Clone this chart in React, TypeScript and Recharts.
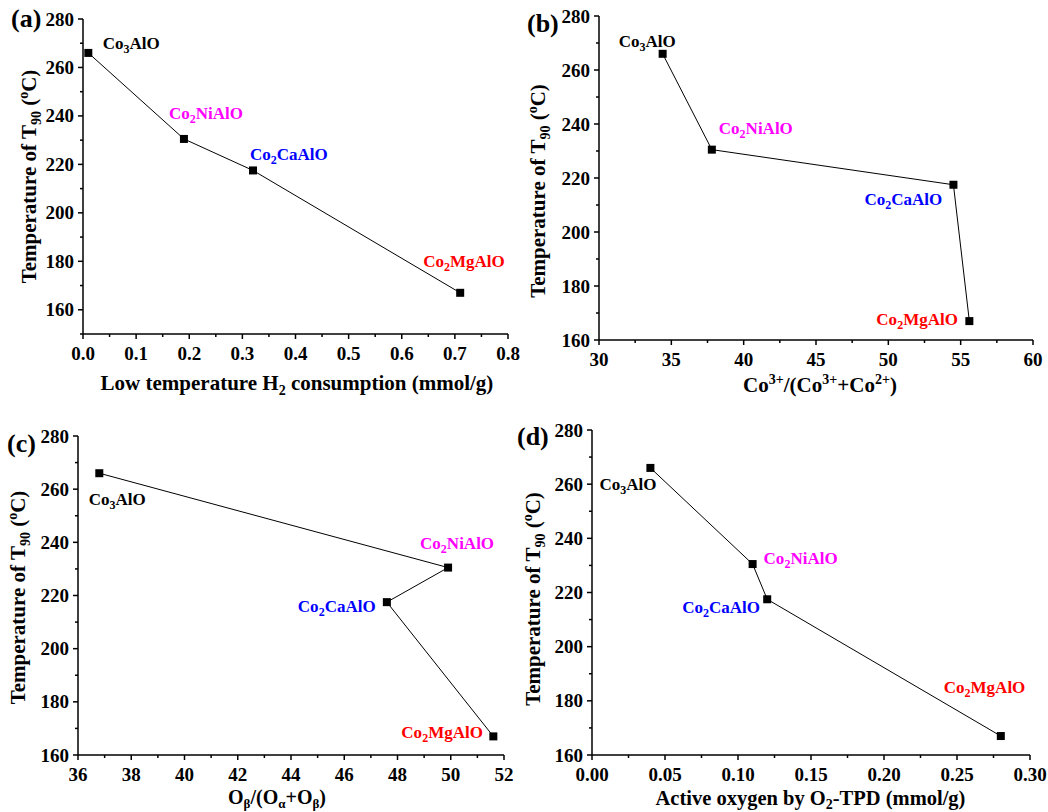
import React from 'react';
import { LineChart, Line, XAxis, YAxis, LabelList } from 'recharts';

// catalysts and their T90 (°C)
const catalysts = ['Co3AlO', 'Co2NiAlO', 'Co2CaAlO', 'Co2MgAlO'];
const labelColors = ['#000000', '#ff00ff', '#0000ff', '#ff0000'];
const t90 = [266, 230.5, 217.5, 167];

// x quantities for each panel
const h2Consumption = [0.01, 0.19, 0.32, 0.71];
const co3Fraction = [34.4, 37.8, 54.5, 55.6];
const oBetaFraction = [36.8, 49.9, 47.6, 51.6];
const activeOxygen = [0.04, 0.11, 0.12, 0.28];

// tick values and labels
const h2Ticks = [0, 0.1, 0.2, 0.3, 0.4, 0.5, 0.6, 0.7, 0.8];
const h2TickLabels = ['0.0', '0.1', '0.2', '0.3', '0.4', '0.5', '0.6', '0.7', '0.8'];
const co3Ticks = [30, 35, 40, 45, 50, 55, 60];
const co3TickLabels = ['30', '35', '40', '45', '50', '55', '60'];
const oBetaTicks = [36, 38, 40, 42, 44, 46, 48, 50, 52];
const oBetaTickLabels = ['36', '38', '40', '42', '44', '46', '48', '50', '52'];
const oxygenTicks = [0, 0.05, 0.1, 0.15, 0.2, 0.25, 0.3];
const oxygenTickLabels = ['0.00', '0.05', '0.10', '0.15', '0.20', '0.25', '0.30'];
const tempTicks = [160, 180, 200, 220, 240, 260, 280];
const tempTickLabels = ['160', '180', '200', '220', '240', '260', '280'];

const FONT = "'Liberation Serif', 'Times New Roman', serif";

// majors plus the midpoints between them (minor ticks)
const withMinors = (majors: number[], lo: number) => {
  const out: number[] = [];
  if (lo < majors[0]) out.push(lo);
  majors.forEach((m, i) => {
    out.push(m);
    if (i < majors.length - 1) out.push((m + majors[i + 1]) / 2);
  });
  return out;
};

const findMajor = (majors: number[], v: number) =>
  majors.findIndex((m) => Math.abs(m - v) < 1e-9);

const makeXTick = (majors: number[], labels: string[]) => (props: any) => {
  const { x, y, payload } = props;
  const i = findMajor(majors, payload.value);
  return (
    <g>
      <line x1={x} y1={y} x2={x} y2={y + (i >= 0 ? 5 : 3)} stroke="#000" strokeWidth={1.5} />
      {i >= 0 && (
        <text x={x} y={y + 26} textAnchor="middle" fontFamily={FONT} fontWeight="bold" fontSize={19} fill="#000">
          {labels[i]}
        </text>
      )}
    </g>
  );
};

const makeYTick = (majors: number[], labels: string[]) => (props: any) => {
  const { x, y, payload } = props;
  const i = findMajor(majors, payload.value);
  return (
    <g>
      <line x1={x} y1={y} x2={x - (i >= 0 ? 5 : 3)} y2={y} stroke="#000" strokeWidth={1.5} />
      {i >= 0 && (
        <text x={x - 9} y={y + 6.5} textAnchor="end" fontFamily={FONT} fontWeight="bold" fontSize={19} fill="#000">
          {labels[i]}
        </text>
      )}
    </g>
  );
};

const Formula = ({ name }: { name: string }) => {
  const m = name.match(/^(Co)(\d)(.*)$/);
  if (!m) return <>{name}</>;
  return (
    <>
      <tspan>{m[1]}</tspan>
      <tspan dy={4} fontSize={12}>{m[2]}</tspan>
      <tspan dy={-4}>{m[3]}</tspan>
    </>
  );
};

interface PanelProps {
  left: number;
  top: number;
  width: number;
  height: number;
  margin: { top: number; right: number };
  yWidth: number;
  xHeight: number;
  xs: number[];
  xDomain: [number, number];
  xMajors: number[];
  xLabels: string[];
  yDomain: [number, number];
  labelOffsets: [number, number][];
}

function Panel(p: PanelProps) {
  const data = catalysts.map((name, i) => ({ name, x: p.xs[i], t: t90[i] }));
  const xTicks = withMinors(p.xMajors, p.xDomain[0]);
  const yTicks = withMinors(tempTicks, p.yDomain[0]);

  return (
    <div style={{ position: 'absolute', left: p.left, top: p.top }}>
      <LineChart
        width={p.width}
        height={p.height}
        data={data}
        margin={{ top: p.margin.top, right: p.margin.right, left: 0, bottom: 0 }}
      >
        <XAxis
          dataKey="x"
          type="number"
          domain={p.xDomain}
          ticks={xTicks}
          interval={0}
          allowDataOverflow
          height={p.xHeight}
          tickSize={0}
          tickMargin={0}
          tickLine={false}
          tick={makeXTick(p.xMajors, p.xLabels)}
          axisLine={{ stroke: '#000', strokeWidth: 1.5 }}
        />
        <XAxis
          xAxisId="top"
          orientation="top"
          dataKey="x"
          type="number"
          domain={p.xDomain}
          height={0}
          tick={false}
          tickLine={false}
          axisLine={{ stroke: '#000', strokeWidth: 1.5 }}
        />
        <YAxis
          type="number"
          domain={p.yDomain}
          ticks={yTicks}
          interval={0}
          allowDataOverflow
          width={p.yWidth}
          tickSize={0}
          tickMargin={0}
          tickLine={false}
          tick={makeYTick(tempTicks, tempTickLabels)}
          axisLine={{ stroke: '#000', strokeWidth: 1.5 }}
        />
        <YAxis
          yAxisId="right"
          orientation="right"
          type="number"
          domain={p.yDomain}
          width={0}
          tick={false}
          tickLine={false}
          axisLine={{ stroke: '#000', strokeWidth: 1.5 }}
        />
        <Line
          dataKey="t"
          stroke="#000"
          strokeWidth={1}
          isAnimationActive={false}
          dot={(d: any) => (
            <rect key={`dot-${d.index}`} x={d.cx - 4} y={d.cy - 4} width={8} height={8} fill="#000" />
          )}
        >
          <LabelList
            dataKey="name"
            content={(l: any) => {
              const [dx, dy] = p.labelOffsets[l.index];
              return (
                <text
                  x={l.x + dx}
                  y={l.y + dy}
                  fontFamily={FONT}
                  fontWeight="bold"
                  fontSize={17}
                  fill={labelColors[l.index]}
                >
                  <Formula name={catalysts[l.index]} />
                </text>
              );
            }}
          />
        </Line>
      </LineChart>
    </div>
  );
}

const titleStyle = { fontFamily: FONT, fontWeight: 'bold' as const, fontSize: 21, fill: '#000' };

const YTitle = ({ x, y }: { x: number; y: number }) => (
  <text transform={`translate(${x},${y}) rotate(-90)`} textAnchor="middle" {...titleStyle}>
    Temperature of T<tspan dy={5} fontSize={14}>90</tspan>
    <tspan dy={-5}> (</tspan>
    <tspan dy={-8} fontSize={14}>o</tspan>
    <tspan dy={8}>C)</tspan>
  </text>
);

export default function App() {
  return (
    <div style={{ position: 'absolute', left: 0, top: 0, width: 1048, height: 812, background: '#fff' }}>
      <Panel
        left={0}
        top={0}
        width={520}
        height={400}
        margin={{ top: 19, right: 12 }}
        yWidth={83}
        xHeight={66}
        xs={h2Consumption}
        xDomain={[0, 0.8]}
        xMajors={h2Ticks}
        xLabels={h2TickLabels}
        yDomain={[150, 280]}
        labelOffsets={[[14.5, -4], [-15, -20], [-3, -10], [-37, -26]]}
      />
      <Panel
        left={520}
        top={0}
        width={528}
        height={400}
        margin={{ top: 16, right: 15 }}
        yWidth={79}
        xHeight={60}
        xs={co3Fraction}
        xDomain={[30, 60]}
        xMajors={co3Ticks}
        xLabels={co3TickLabels}
        yDomain={[160, 280]}
        labelOffsets={[[-44, -7], [7, -16], [-89, 20], [-93, 4]]}
      />
      <Panel
        left={0}
        top={420}
        width={520}
        height={392}
        margin={{ top: 16, right: 16 }}
        yWidth={78}
        xHeight={57}
        xs={oBetaFraction}
        xDomain={[36, 52]}
        xMajors={oBetaTicks}
        xLabels={oBetaTickLabels}
        yDomain={[160, 280]}
        labelOffsets={[[-10.5, 32], [-28, -19], [-89, 10], [-92, 2]]}
      />
      <Panel
        left={520}
        top={420}
        width={528}
        height={392}
        margin={{ top: 10, right: 18 }}
        yWidth={72}
        xHeight={57}
        xs={activeOxygen}
        xDomain={[0, 0.3]}
        xMajors={oxygenTicks}
        xLabels={oxygenTickLabels}
        yDomain={[160, 280]}
        labelOffsets={[[-51, 22], [11, 0], [-85, 14], [-57, -43]]}
      />

      {/* axis titles and panel letters */}
      <svg width={1048} height={812} style={{ position: 'absolute', left: 0, top: 0, pointerEvents: 'none' }}>
        <g fontFamily={FONT} fontWeight="bold" fontSize={26} fill="#000">
          <text x={11} y={27}>(a)</text>
          <text x={527} y={32}>(b)</text>
          <text x={7} y={452}>(c)</text>
          <text x={517} y={445}>(d)</text>
        </g>

        <YTitle x={35.5} y={176.5} />
        <YTitle x={545} y={191} />
        <YTitle x={25.3} y={597.5} />
        <YTitle x={539.6} y={599} />

        <text x={297} y={390} textAnchor="middle" {...titleStyle}>
          Low temperature H<tspan dy={5} fontSize={14}>2</tspan>
          <tspan dy={-5}> consumption (mmol/g)</tspan>
        </text>
        <text x={820} y={392} textAnchor="middle" {...titleStyle}>
          Co<tspan dy={-8} fontSize={14}>3+</tspan>
          <tspan dy={8}>/(Co</tspan>
          <tspan dy={-8} fontSize={14}>3+</tspan>
          <tspan dy={8}>+Co</tspan>
          <tspan dy={-8} fontSize={14}>2+</tspan>
          <tspan dy={8}>)</tspan>
        </text>
        <text x={277} y={804} textAnchor="middle" {...titleStyle} fontSize={20}>
          O<tspan dy={4} fontSize={13}>β</tspan>
          <tspan dy={-4}>/(O</tspan>
          <tspan dy={4} fontSize={13}>α</tspan>
          <tspan dy={-4}>+O</tspan>
          <tspan dy={4} fontSize={13}>β</tspan>
          <tspan dy={-4}>)</tspan>
        </text>
        <text x={810.5} y={805} textAnchor="middle" {...titleStyle} fontSize={20.5}>
          Active oxygen by O<tspan dy={4} fontSize={14}>2</tspan>
          <tspan dy={-4}>-TPD (mmol/g)</tspan>
        </text>
      </svg>
    </div>
  );
}
